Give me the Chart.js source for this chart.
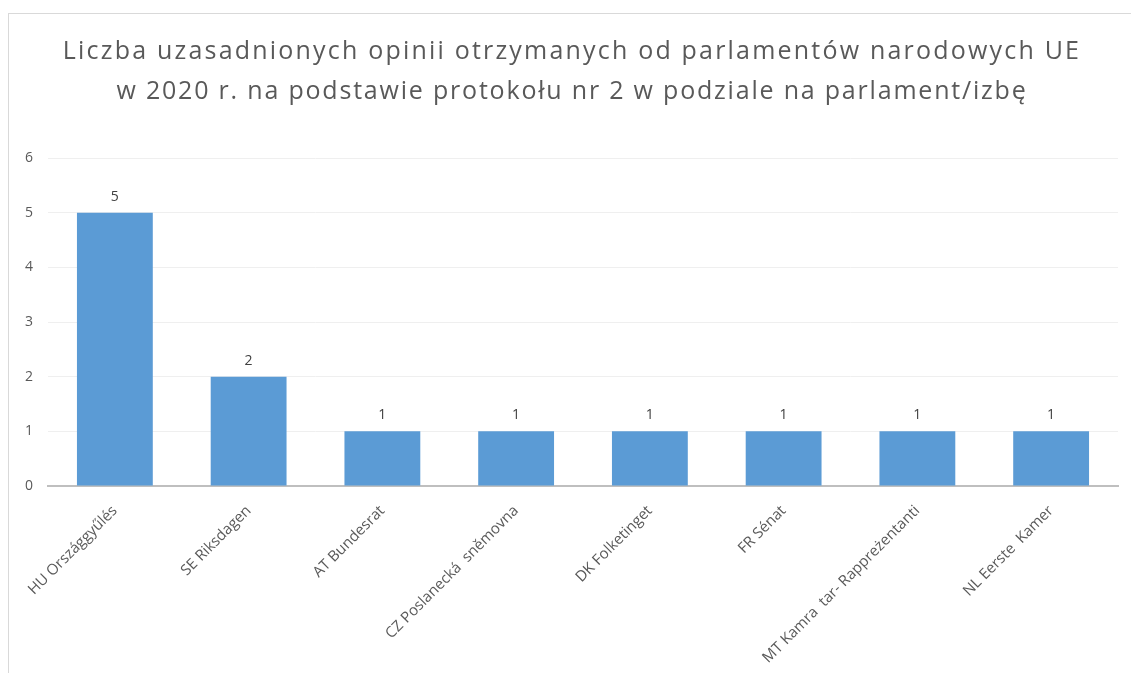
<!DOCTYPE html>
<html>
<head>
<meta charset="utf-8">
<script src="https://cdn.jsdelivr.net/npm/chart.js@4/dist/chart.umd.min.js"></script>
<style>
  html, body { margin: 0; padding: 0; background: #fff; }
  #wrap { position: relative; width: 1131px; height: 673px; overflow: hidden; }
  #frame { position: absolute; left: 8px; top: 13px; width: 1200px; height: 700px;
           border-left: 1px solid #d9d9d9; border-top: 1px solid #d9d9d9; }
  canvas { position: absolute; left: 0; top: 0; }
</style>
</head>
<body>
<div id="wrap">
  <div id="frame"></div>
  <canvas id="chart" width="1131" height="673"></canvas>
</div>
<script>
// ---------- Data ----------
const titleLines = [
  'Liczba uzasadnionych opinii otrzymanych od parlamentów narodowych UE',
  'w 2020 r. na podstawie protokołu nr 2 w podziale na parlament/izbę'
];
const parliaments = [
  'HU Országgyűlés',
  'SE Riksdagen',
  'AT Bundesrat',
  'CZ Poslanecká  sněmovna',
  'DK Folketinget',
  'FR Sénat',
  'MT Kamra  tar- Rappreżentanti',
  'NL Eerste  Kamer'
];
const opinions = [5, 2, 1, 1, 1, 1, 1, 1];
const yTicks = [0, 1, 2, 3, 4, 5, 6];

const textColor = '#595959';

// ---------- Plugins ----------
// spaced-out title, drawn by hand so letter spacing can be set
const spacedTitle = {
  id: 'spacedTitle',
  afterDraw(chart) {
    const ctx = chart.ctx;
    ctx.save();
    ctx.fillStyle = textColor;
    ctx.font = '25px "Open Sans"';
    ctx.letterSpacing = '2.2px';
    ctx.textAlign = 'center';
    ctx.textBaseline = 'middle';
    ctx.fillText(titleLines[0], 572, 52);
    ctx.letterSpacing = '1.8px';
    ctx.fillText(titleLines[1], 572, 92);
    ctx.restore();
  }
};

// value labels above the bars
const valueLabels = {
  id: 'valueLabels',
  afterDatasetsDraw(chart) {
    const ctx = chart.ctx;
    const meta = chart.getDatasetMeta(0);
    ctx.save();
    ctx.fillStyle = '#404040';
    ctx.font = '14px "Open Sans"';
    ctx.textAlign = 'center';
    ctx.textBaseline = 'bottom';
    meta.data.forEach((bar, i) => {
      ctx.fillText(String(opinions[i]), bar.x, bar.y - 9);
    });
    ctx.restore();
  }
};

new Chart(document.getElementById('chart'), {
  type: 'bar',
  data: {
    labels: parliaments,
    datasets: [{
      data: opinions,
      backgroundColor: '#5b9bd5',
      barPercentage: 0.567,
      categoryPercentage: 1
    }]
  },
  options: {
    responsive: false,
    animation: false,
    layout: { padding: { top: 158, left: 8, right: 13, bottom: 0 } },
    plugins: { legend: { display: false }, tooltip: { enabled: false }, title: { display: false } },
    scales: {
      x: {
        grid: { display: false },
        border: { color: '#bfbfbf', width: 2 },
        ticks: {
          color: textColor,
          font: { family: '"Open Sans"', size: 15 },
          minRotation: 45, maxRotation: 45,
          autoSkip: false, padding: 8
        },
        afterFit(scale) { scale.height = 187; }
      },
      y: {
        min: 0, max: 6,
        afterBuildTicks(scale) { scale.ticks = yTicks.map(v => ({ value: v })); },
        grid: { color: '#efefef', drawTicks: false },
        border: { display: false },
        ticks: { color: textColor, font: { family: '"Open Sans"', size: 14 }, padding: 15 },
        afterFit(scale) { scale.width = 40; }
      }
    }
  },
  plugins: [spacedTitle, valueLabels]
});
</script>
</body>
</html>
